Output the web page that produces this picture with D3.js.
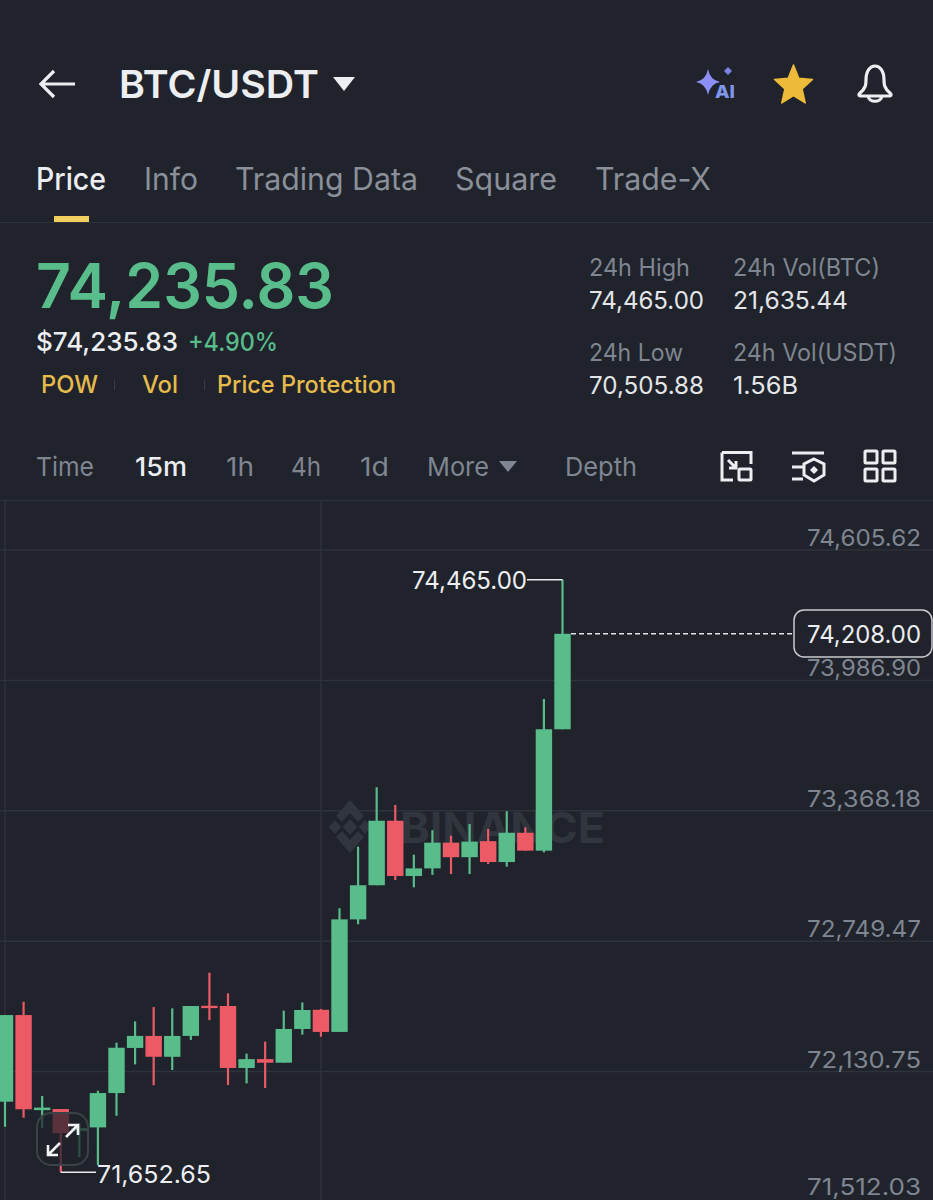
<!DOCTYPE html>
<html><head><meta charset="utf-8">
<script src="https://cdn.jsdelivr.net/npm/d3@7/dist/d3.min.js"></script>
<style>html,body{margin:0;padding:0;background:#20232b;overflow:hidden}svg{display:block}text{font-family:Inter,"Open Sans",sans-serif}</style>
</head><body><svg id="c" width="933" height="1200"></svg>
<script>
const priceTicks=[74605.62,73986.90,73368.18,72749.47,72130.75,71512.03];
const opens =[71988,72399,71948,71953,71849,71866,72029,72243,72300,72201,72300,72443,72442,72148,72190,72173,72333,72424,72319,72853,73015,73321,73059,73095,73217,73148,73224,73125,73264,73179,73755];
const closes=[72399,71952,71960,71839,71863,72029,72244,72300,72201,72300,72442,72432,72148,72190,72173,72333,72423,72319,72853,73015,73321,73059,73095,73217,73148,73222,73125,73264,73179,73755,74208];
const highs =[72399,72462,72015,71953,71887,72040,72268,72369,72437,72431,72442,72600,72502,72216,72273,72420,72459,72428,72906,73198,73480,73396,73160,73276,73250,73306,73282,73366,73290,73899,74465];
const lows  =[71869,71912,71863,71652.65,71725,71687,71921,72165,72066,72138,72281,72375,72067,72075,72053,72173,72306,72296,72319,72830,73015,73040,73005,73064,73068,73068,73116,73103,73179,73171,73755];
const highLabel=74465.00, lowLabel=71652.65, lastPrice=74208.00;
const tabs=["Price","Info","Trading Data","Square","Trade-X"];
const intervals=["Time","15m","1h","4h","1d","More","Depth"];

const GREEN="#58bd8a",RED="#ec5a66",BG="#20232b",GRID="#2e323a",GREY="#7f8591",GREY2="#8a8f9a",WHITE="#eceef1",YEL="#e6bb4c";
const svg=d3.select("#c");
svg.append("rect").attr("width",933).attr("height",1200).attr("fill",BG);
function t(s,x,y,size,color,weight,width,anchor){
  const e=svg.append("text").attr("x",x).attr("y",y).attr("font-size",size).attr("fill",color).attr("font-weight",weight||400).text(s);
  if(width)e.attr("textLength",width).attr("lengthAdjust","spacingAndGlyphs");
  if(anchor)e.attr("text-anchor",anchor);
  return e;
}
// header
svg.append("path").attr("d","M75 84H42M54 71L41 84L54 97").attr("fill","none").attr("stroke",WHITE).attr("stroke-width",3.2);
t("BTC/USDT",119,98,38,WHITE,600,200);
svg.append("path").attr("d","M333 77H355L344 91Z").attr("fill",WHITE);
const sparkle=(cx,cy,rx,ry)=>`M${cx} ${cy-ry}Q${cx+2} ${cy-2} ${cx+rx} ${cy}Q${cx+2} ${cy+2} ${cx} ${cy+ry}Q${cx-2} ${cy+2} ${cx-rx} ${cy}Q${cx-2} ${cy-2} ${cx} ${cy-ry}Z`;
svg.append("path").attr("d",sparkle(708,82,12,13)).attr("fill","#8b8ff6");
svg.append("path").attr("d",sparkle(728,71,4,4)).attr("fill","#7d83e6");
t("AI",715,98,18,"#7f96ee",800,20);
const star=d3.range(10).map(i=>{const r=i%2?9.5:21,a=-Math.PI/2+i*Math.PI/5;return[793.5+r*Math.cos(a)*0.95,86+r*Math.sin(a)]});
svg.append("path").attr("d",d3.line().curve(d3.curveLinearClosed)(star)).attr("fill","#eeba3a").attr("stroke","#eeba3a").attr("stroke-width",1.5).attr("stroke-linejoin","round");
svg.append("path").attr("d","M860 93C866 88 866 84 866 80C866 71 870 66 875 66C880 66 884 71 884 80C884 84 884 88 890 93C892 95 891 96 889 96H861C859 96 858 95 860 93ZM868 96C869 103 881 103 882 96")
  .attr("fill","none").attr("stroke",WHITE).attr("stroke-width",3.2).attr("stroke-linejoin","round");
// tabs
const tabPos=[[36,70],[144,54],[235,183],[455,102],[595,116]];
tabs.forEach((s,i)=>t(s,tabPos[i][0],190,31,i?GREY2:WHITE,i?400:500,tabPos[i][1]));
svg.append("rect").attr("x",54).attr("y",216).attr("width",35).attr("height",6).attr("fill","#f0cf5f");
svg.append("line").attr("x1",0).attr("x2",933).attr("y1",222.5).attr("y2",222.5).attr("stroke",GRID);
// stats
t("74,235.83",36,308,62,GREEN,600,298);
t("$74,235.83",36,351,26,WHITE,500,142);
t("+4.90%",188,351,25,GREEN,500,90);
t("POW",41,393,24,YEL,500,57);
t("Vol",142,393,24,YEL,500,36);
t("Price Protection",217,393,24,YEL,500,179);
[114.5,204.5].forEach(x=>svg.append("line").attr("x1",x).attr("x2",x).attr("y1",380).attr("y2",390).attr("stroke","#3a3d42"));
t("24h High",589,276,24,GREY,400,101);
t("24h Vol(BTC)",733,276,24,GREY,400,147);
t("74,465.00",589,309,24,"#e3e5e8",400,115);
t("21,635.44",733,309,24,"#e3e5e8",400,115);
t("24h Low",589,361,24,GREY,400,94);
t("24h Vol(USDT)",733,361,24,GREY,400,164);
t("70,505.88",589,394,24,"#e3e5e8",400,115);
t("1.56B",733,394,24,"#e3e5e8",400,65);
// interval row
const ivPos=[[36,58],[135,52],[226,28],[291,30],[360,29],[427,62],[565,72]];
intervals.forEach((s,i)=>t(s,ivPos[i][0],476,26,i===1?WHITE:GREY,i===1?500:400,ivPos[i][1]));
svg.append("path").attr("d","M499 461H517L508 472Z").attr("fill",GREY);
const ic=svg.append("g").attr("fill","none").attr("stroke",WHITE).attr("stroke-width",3);
ic.append("path").attr("d","M722 452.500H751V464M733 480H722V452.500M728 460L736 468M736 461V468H729");
ic.append("rect").attr("x",739).attr("y",469).attr("width",12).attr("height",11).attr("rx",1);
ic.append("path").attr("d","M792 453H824M792 467H803M792 479H803");
ic.append("path").attr("d","M814 459L824 464V475L814 481L804 475V464Z");
svg.append("path").attr("d",sparkle(814,470,4,4)).attr("fill",WHITE);
[[865,451],[883,451],[865,469],[883,469]].forEach(p=>ic.append("rect").attr("x",p[0]).attr("y",p[1]).attr("width",12).attr("height",12).attr("rx",1));
// chart frame
svg.append("line").attr("x1",0).attr("x2",933).attr("y1",500.5).attr("y2",500.5).attr("stroke",GRID);
const y=d3.scaleLinear().domain([71512.03,74605.62]).range([1202,550]);
const x=d3.scaleLinear().domain([0,opens.length-1]).range([5,562.5]);
const grid=svg.append("g");
grid.selectAll("line.h").data(priceTicks).join("line").attr("class","h").attr("x1",0).attr("x2",933).attr("y1",d=>y(d)).attr("y2",d=>y(d)).attr("stroke",GRID).attr("stroke-width",1.5);
[5,321].forEach(v=>grid.append("line").attr("x1",v).attr("x2",v).attr("y1",501).attr("y2",1200).attr("stroke",GRID).attr("stroke-width",1.5));
// watermark
const wm=svg.append("g").attr("fill","#31353d");
const dia=(cx,cy,rx,ry)=>`M${cx} ${cy-ry}L${cx+rx} ${cy}L${cx} ${cy+ry}L${cx-rx} ${cy}Z`;
wm.append("path").attr("d",dia(335,827,6,7)+dia(365,827,6,7)+dia(350,827,7,8));
wm.append("path").attr("d","M350 800L364 816L358 822L350 813L342 822L336 816Z");
wm.append("path").attr("d","M350 853L364 837L358 831L350 840L342 831L336 837Z");
wm.append("text").attr("x",400).attr("y",843).attr("font-size",42).attr("font-weight",700).attr("textLength",205).attr("lengthAdjust","spacingAndGlyphs").text("BINANCE");
// candles
const idx=d3.range(opens.length);
const col=i=>closes[i]>=opens[i]?GREEN:RED;
svg.append("g").selectAll("line").data(idx).join("line")
  .attr("x1",i=>x(i)).attr("x2",i=>x(i)).attr("y1",i=>y(highs[i])).attr("y2",i=>y(lows[i])).attr("stroke",col).attr("stroke-width",2.2);
svg.append("g").selectAll("rect").data(idx).join("rect")
  .attr("x",i=>x(i)-8.2).attr("width",16.4)
  .attr("y",i=>y(Math.max(opens[i],closes[i])))
  .attr("height",i=>Math.max(2,Math.abs(y(opens[i])-y(closes[i]))))
  .attr("fill",col);
// hi/lo labels
const hiI=highs.indexOf(highLabel),loI=lows.indexOf(lowLabel);
svg.append("line").attr("x1",527).attr("x2",x(hiI)).attr("y1",y(highLabel)).attr("y2",y(highLabel)).attr("stroke","#e8eaed").attr("stroke-width",1.5);
t("74,465.00",412,589,24,WHITE,400,115);
svg.append("line").attr("x1",x(loI)).attr("x2",96).attr("y1",y(lowLabel)).attr("y2",y(lowLabel)).attr("stroke","#e8eaed").attr("stroke-width",1.5);
t("71,652.65",97,1183,24,WHITE,400,114);
// expand button
svg.append("rect").attr("x",37).attr("y",1113).attr("width",51).attr("height",52).attr("rx",14).attr("fill",BG).attr("fill-opacity",.72).attr("stroke","#3d4148").attr("stroke-width",2);
svg.append("path").attr("d","M48 1155L60 1143M66 1137L78 1125M48 1145V1155H58M68 1125H78V1135").attr("fill","none").attr("stroke","#f2f3f5").attr("stroke-width",2.6);
// axis
const axis=svg.append("g").attr("transform","translate(921,0)")
  .call(d3.axisRight(y).tickValues(priceTicks).tickSize(0).tickFormat(d3.format(",.2f")));
axis.select(".domain").remove();
axis.selectAll("text").attr("x",0).attr("dy",d=>d===priceTicks[priceTicks.length-1]?-7.5:-4.5).attr("text-anchor","end").attr("font-size",23).attr("fill",GREY)
  .attr("font-family","Inter").attr("textLength",114).attr("lengthAdjust","spacingAndGlyphs");
// last price
svg.append("line").attr("x1",571).attr("x2",794).attr("y1",y(lastPrice)).attr("y2",y(lastPrice)).attr("stroke","#dfe1e5").attr("stroke-width",1.5).attr("stroke-dasharray","5 3");
svg.append("rect").attr("x",794).attr("y",610).attr("width",138).attr("height",47).attr("rx",10).attr("fill",BG).attr("stroke","#c9ccd1").attr("stroke-width",1.5);
t(d3.format(",.2f")(lastPrice),807,643,24,WHITE,400,114);
</script></body></html>
